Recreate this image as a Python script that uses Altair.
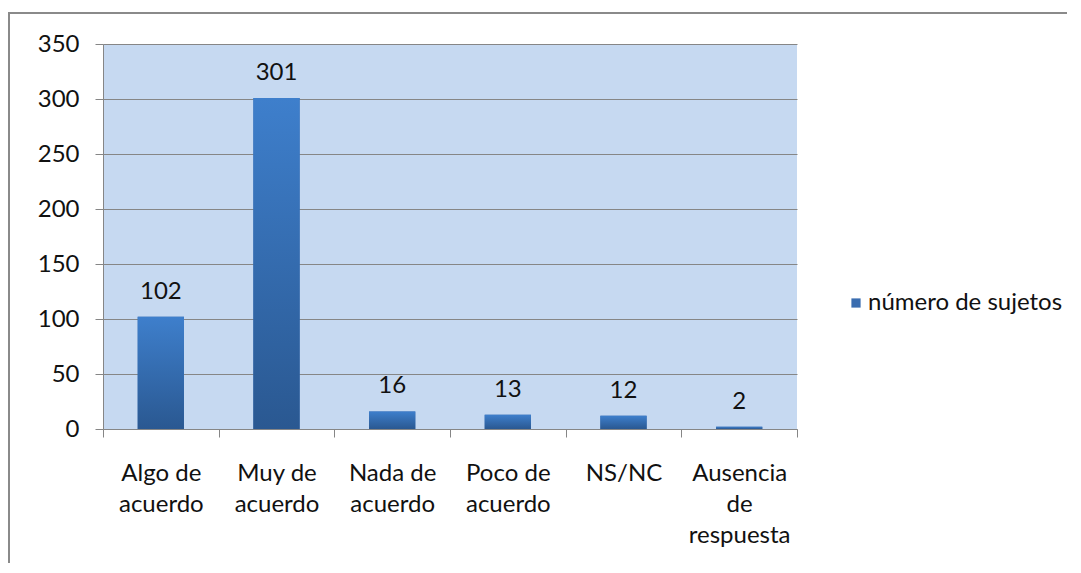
import altair as alt
import pandas as pd

categories = ["Algo de|acuerdo", "Muy de|acuerdo", "Nada de|acuerdo", "Poco de|acuerdo", "NS/NC", "Ausencia|de|respuesta"]
values = [102, 301, 16, 13, 12, 2]
series_name = "número de sujetos"
y_ticks = [0, 50, 100, 150, 200, 250, 300, 350]

df = pd.DataFrame({"cat": categories, "val": values, "serie": [series_name] * len(values)})

FONT = "Lato"
GRID = "#868686"
FS = 24

grad = alt.LinearGradient(
    gradient="linear",
    stops=[alt.GradientStop(color="#3E7FCC", offset=0), alt.GradientStop(color="#2A5891", offset=1)],
    x1=0, x2=0, y1=0, y2=1,
)

base = alt.Chart(df)

frame = base.mark_rect(fill=None, stroke="#8A8A8A", strokeWidth=2, clip=False).encode(
    x=alt.value(-94), x2=alt.value(1000), y=alt.value(-31), y2=alt.value(600)
).transform_filter("datum.val == 102")

bars = base.mark_bar(width={"band": 0.4}).encode(
    x=alt.X("cat:N", sort=categories, title=None,
            scale=alt.Scale(paddingInner=0, paddingOuter=0),
            axis=alt.Axis(labelExpr="split(datum.label, '|')", labelAngle=0,
                          tickBand="extent", labelPadding=24, labelLineHeight=31,
                          labelBaseline="top")),
    y=alt.Y("val:Q", title=None, scale=alt.Scale(domain=[0, 350], nice=False),
            axis=alt.Axis(values=y_ticks, labelPadding=16)),
    fill=alt.Fill("serie:N", scale=alt.Scale(range=["#3A6DB0"]),
                  legend=alt.Legend(title=None, orient="none", legendX=741, legendY=247,
                                    symbolType="square", symbolSize=85, labelFontSize=FS,
                                    labelFont=FONT, labelColor="#111", symbolStrokeWidth=0,
                                    labelOffset=0, labelLimit=400)),
)
bars_grad = base.mark_bar(color=grad, width={"band": 0.4}).encode(
    x=alt.X("cat:N", sort=categories),
    y=alt.Y("val:Q"),
)

labels = base.mark_text(baseline="bottom", dy=-13, fontSize=FS, font=FONT, color="#111").encode(
    x=alt.X("cat:N", sort=categories),
    y=alt.Y("val:Q"),
    text=alt.Text("val:Q"),
)

chart = alt.layer(frame, bars, bars_grad, labels).properties(
    width=694, height=385,
    autosize=alt.AutoSizeParams(type="none"),
    padding={"left": 95, "top": 36, "right": 270, "bottom": 134},
    background="white",
).configure_view(
    fill="#C6D9F1", stroke=None
).configure_axis(
    domainColor=GRID, tickColor=GRID, gridColor=GRID, tickSize=8,
    labelFont=FONT, labelFontSize=FS, labelColor="#111",
).configure_axisY(
    grid=True, domain=True
).configure_axisX(
    grid=False
)

chart.save("out.html", embed_options={"renderer": "svg", "actions": False})
